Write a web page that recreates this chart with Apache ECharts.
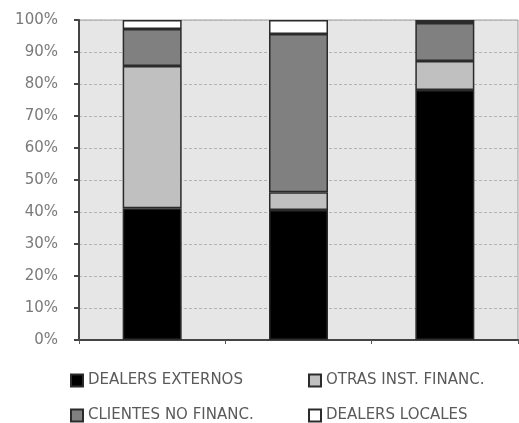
<!DOCTYPE html>
<html>
<head>
<meta charset="utf-8">
<script src="https://cdn.jsdelivr.net/npm/echarts@6/dist/echarts.min.js"></script>
<style>
  html, body { margin: 0; padding: 0; background: #ffffff; }
  #chart { width: 519px; height: 423px; }
</style>
</head>
<body>
<div id="chart"></div>
<script>
// Three unlabeled bars, each split into counterpart shares (percent of total)
var categories = ['1', '2', '3'];
var seriesNames = ['DEALERS EXTERNOS', 'OTRAS INST. FINANC.', 'CLIENTES NO FINANC.', 'DEALERS LOCALES'];
var dealersExternos = [41.2, 40.6, 78.1];
var otrasInstFinanc = [44.4, 5.6, 9.1];
var clientesNoFinanc = [11.6, 49.4, 11.9];
var dealersLocales = [2.8, 4.4, 0.9];
var yTicks = [0, 10, 20, 30, 40, 50, 60, 70, 80, 90, 100];

var fills = ['#000000', '#c0c0c0', '#808080', '#ffffff'];
var values = [dealersExternos, otrasInstFinanc, clientesNoFinanc, dealersLocales];

var series = seriesNames.map(function (name, i) {
  return {
    name: name,
    type: 'bar',
    stack: 'total',
    barWidth: 59,
    data: values[i],
    itemStyle: { color: fills[i], borderColor: '#2b2b2b', borderWidth: 1.5 },
    emphasis: { disabled: true }
  };
});

var legendText = { color: '#5a5a5a', fontFamily: 'DejaVu Sans', fontSize: 15, lineHeight: 12 };
function legendAt(name, left, top) {
  return {
    data: [name], left: left, top: top, orient: 'horizontal',
    icon: 'rect', itemWidth: 12, itemHeight: 12, itemGap: 0,
    padding: 0, selectedMode: false, textStyle: legendText
  };
}

var chart = echarts.init(document.getElementById('chart'), null, { renderer: 'canvas' });
chart.setOption({
  animation: false,
  backgroundColor: '#ffffff',
  grid: {
    left: 79, right: 1, top: 20, bottom: 83,
    show: true, backgroundColor: '#e6e6e6', borderColor: '#9a9a9a', borderWidth: 1
  },
  legend: [
    legendAt(seriesNames[0], 70, 373),
    legendAt(seriesNames[1], 308, 373),
    legendAt(seriesNames[2], 70, 408),
    legendAt(seriesNames[3], 308, 408)
  ],
  xAxis: {
    type: 'category',
    data: categories,
    boundaryGap: true,
    axisLine: { show: true, lineStyle: { color: '#444444', width: 2 } },
    axisTick: { show: true, alignWithLabel: false, length: 4, lineStyle: { color: '#555555' } },
    axisLabel: { show: false },
    splitLine: { show: false }
  },
  yAxis: {
    type: 'value',
    min: yTicks[0],
    max: yTicks[yTicks.length - 1],
    interval: 10,
    axisLine: { show: true, lineStyle: { color: '#444444', width: 2 } },
    axisTick: { show: true, length: 5, lineStyle: { color: '#444444', width: 2 } },
    axisLabel: {
      formatter: '{value}%', color: '#7a7a7a', margin: 21,
      fontFamily: 'DejaVu Sans', fontSize: 15
    },
    splitLine: { show: true, lineStyle: { color: '#b4b4b4', type: [3, 2], width: 1 } }
  },
  series: series
});
</script>
</body>
</html>
